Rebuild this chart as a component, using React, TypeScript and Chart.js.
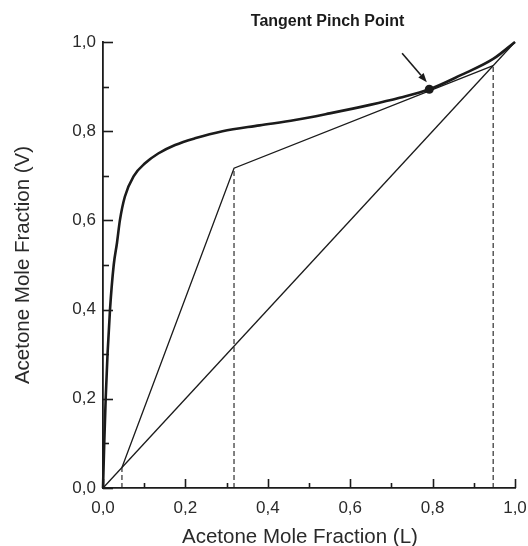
import React, { useEffect, useRef } from 'react';
import { Chart, registerables } from 'chart.js';

Chart.register(...registerables);

const FONT = '"Liberation Sans", Arial, Helvetica, sans-serif';
const INK = '#1b1b1b';
const TEXT = '#2a2a2a';

// Equilibrium curve (vapour vs liquid acetone mole fraction)
const eqX = [0, 0.003, 0.0065, 0.011, 0.017, 0.026, 0.034, 0.041, 0.053, 0.075, 0.102, 0.134, 0.175, 0.223, 0.29, 0.38, 0.466, 0.55, 0.648, 0.72, 0.792, 0.867, 0.947, 1.0];
const eqY = [0, 0.1, 0.2, 0.3, 0.4, 0.5, 0.55, 0.6, 0.653, 0.7, 0.728, 0.75, 0.769, 0.784, 0.8, 0.813, 0.825, 0.84, 0.859, 0.875, 0.894, 0.925, 0.962, 1.0];

// 45-degree diagonal
const diagX = [0, 1];
const diagY = [0, 1];

// Operating lines
const opX = [0.046, 0.318, 0.947];
const opY = [0.046, 0.717, 0.947];

// Dashed verticals (x position, top value)
const dropX = [0.046, 0.318, 0.947];
const dropY = [0.046, 0.717, 0.947];

// Tangent pinch point
const pinchX = [0.792];
const pinchY = [0.894];

// Tick labels (major ticks every 0.2)
const tickValues = [0, 0.2, 0.4, 0.6, 0.8, 1.0];
const tickLabels = ['0,0', '0,2', '0,4', '0,6', '0,8', '1,0'];

// Annotation
const noteText = 'Tangent Pinch Point';
const notePos = [0.545, 1.046];
const arrowFrom = [0.726, 0.975];
const arrowTo = [0.786, 0.91];

const xTitle = 'Acetone Mole Fraction (L)';
const xTitleCenter = 0.478; // x value under the title's centre
const yTitle = 'Acetone Mole Fraction (V)';

const pts = (xs: number[], ys: number[]) => xs.map((x, i) => ({ x, y: ys[i] }));

const labelFor = (v: number) => {
  const i = tickValues.findIndex((t) => Math.abs(t - v) < 1e-6);
  return i >= 0 ? tickLabels[i] : '';
};

const decorPlugin = {
  id: 'decor',
  afterDraw(chart: any) {
    const { ctx, chartArea, scales } = chart;
    const xs = scales.x;
    const ys = scales.y;
    ctx.save();
    ctx.strokeStyle = INK;
    ctx.lineWidth = 1.6;
    xs.ticks.forEach((t: any) => {
      const px = Math.round(xs.getPixelForValue(t.value)) + 0.5;
      const major = Math.round(t.value * 10) % 2 === 0;
      const len = major ? 9 : 5;
      ctx.beginPath();
      ctx.moveTo(px, chartArea.bottom);
      ctx.lineTo(px, chartArea.bottom - len);
      ctx.stroke();
    });
    ys.ticks.forEach((t: any) => {
      const py = Math.round(ys.getPixelForValue(t.value)) + 0.5;
      const major = Math.round(t.value * 10) % 2 === 0;
      const len = major ? 10 : 6;
      ctx.beginPath();
      ctx.moveTo(chartArea.left, py);
      ctx.lineTo(chartArea.left + len, py);
      ctx.stroke();
    });

    // x axis title
    ctx.fillStyle = TEXT;
    ctx.font = `20.5px ${FONT}`;
    ctx.textAlign = 'center';
    ctx.textBaseline = 'alphabetic';
    ctx.fillText(xTitle, xs.getPixelForValue(xTitleCenter), xs.bottom - 3);

    // annotation text
    ctx.fillStyle = INK;
    ctx.font = `bold 16px ${FONT}`;
    ctx.textAlign = 'center';
    ctx.textBaseline = 'middle';
    ctx.fillText(noteText, xs.getPixelForValue(notePos[0]), ys.getPixelForValue(notePos[1]));

    // arrow
    const x0 = xs.getPixelForValue(arrowFrom[0]);
    const y0 = ys.getPixelForValue(arrowFrom[1]);
    const x1 = xs.getPixelForValue(arrowTo[0]);
    const y1 = ys.getPixelForValue(arrowTo[1]);
    const ang = Math.atan2(y1 - y0, x1 - x0);
    const head = 9;
    const hw = 3.5;
    const bx = x1 - head * Math.cos(ang);
    const by = y1 - head * Math.sin(ang);
    ctx.strokeStyle = INK;
    ctx.lineWidth = 1.6;
    ctx.beginPath();
    ctx.moveTo(x0, y0);
    ctx.lineTo(bx, by);
    ctx.stroke();
    ctx.beginPath();
    ctx.moveTo(x1, y1);
    ctx.lineTo(bx + hw * Math.sin(ang), by - hw * Math.cos(ang));
    ctx.lineTo(bx - hw * Math.sin(ang), by + hw * Math.cos(ang));
    ctx.closePath();
    ctx.fill();
    ctx.restore();
  },
};

export default function App() {
  const ref = useRef<HTMLCanvasElement | null>(null);

  useEffect(() => {
    if (!ref.current) return;
    const dashed = (i: number) => ({
      data: [
        { x: dropX[i], y: 0 },
        { x: dropX[i], y: dropY[i] },
      ],
      borderColor: INK,
      borderWidth: 1.1,
      borderDash: [5, 3],
      pointRadius: 0,
      clip: false as const,
    });
    const chart = new Chart(ref.current, {
      type: 'line',
      data: {
        datasets: [
          {
            data: pts(eqX, eqY),
            borderColor: INK,
            borderWidth: 2.6,
            pointRadius: 0,
            cubicInterpolationMode: 'monotone',
            clip: false as const,
          },
          {
            data: pts(diagX, diagY),
            borderColor: INK,
            borderWidth: 1.3,
            pointRadius: 0,
            clip: false as const,
          },
          {
            data: pts(opX, opY),
            borderColor: INK,
            borderWidth: 1.3,
            pointRadius: 0,
            clip: false as const,
          },
          dashed(0),
          dashed(1),
          dashed(2),
          {
            data: pts(pinchX, pinchY),
            showLine: false,
            pointRadius: 4.5,
            pointBackgroundColor: INK,
            pointBorderColor: INK,
            pointBorderWidth: 0,
            clip: false as const,
          },
        ],
      } as any,
      options: {
        animation: false,
        responsive: false,
        maintainAspectRatio: false,
        layout: { padding: { left: 0, right: 13, top: 42, bottom: 0 } },
        plugins: { legend: { display: false }, tooltip: { enabled: false } },
        scales: {
          x: {
            type: 'linear',
            min: 0,
            max: 1,
            grid: { display: false, drawTicks: false },
            border: { display: true, color: INK, width: 1.8 },
            ticks: {
              stepSize: 0.1,
              autoSkip: false,
              maxRotation: 0,
              padding: 10,
              color: TEXT,
              font: { family: FONT, size: 17 },
              callback: (v: any) => labelFor(Number(v)),
            },
            title: { display: false },
            afterFit: (s: any) => {
              s.height = 58;
              s.paddingLeft = 0;
              s.paddingRight = 0;
            },
          },
          y: {
            type: 'linear',
            min: 0,
            max: 1,
            grid: { display: false, drawTicks: false },
            border: { display: true, color: INK, width: 1.8 },
            ticks: {
              stepSize: 0.1,
              autoSkip: false,
              padding: 7,
              color: TEXT,
              font: { family: FONT, size: 17 },
              callback: (v: any) => labelFor(Number(v)),
            },
            title: {
              display: true,
              text: yTitle,
              color: TEXT,
              font: { family: FONT, size: 20.5 },
              padding: { top: 11, bottom: 0 },
            },
            afterFit: (s: any) => {
              s.width = 103;
              s.paddingTop = 0;
              s.paddingBottom = 0;
            },
          },
        },
      } as any,
      plugins: [decorPlugin],
    });
    return () => chart.destroy();
  }, []);

  return (
    <div style={{ position: 'absolute', left: 0, top: 0, width: 528, height: 546, background: '#fff' }}>
      <canvas ref={ref} width={528} height={546} style={{ width: 528, height: 546, display: 'block' }} />
    </div>
  );
}
